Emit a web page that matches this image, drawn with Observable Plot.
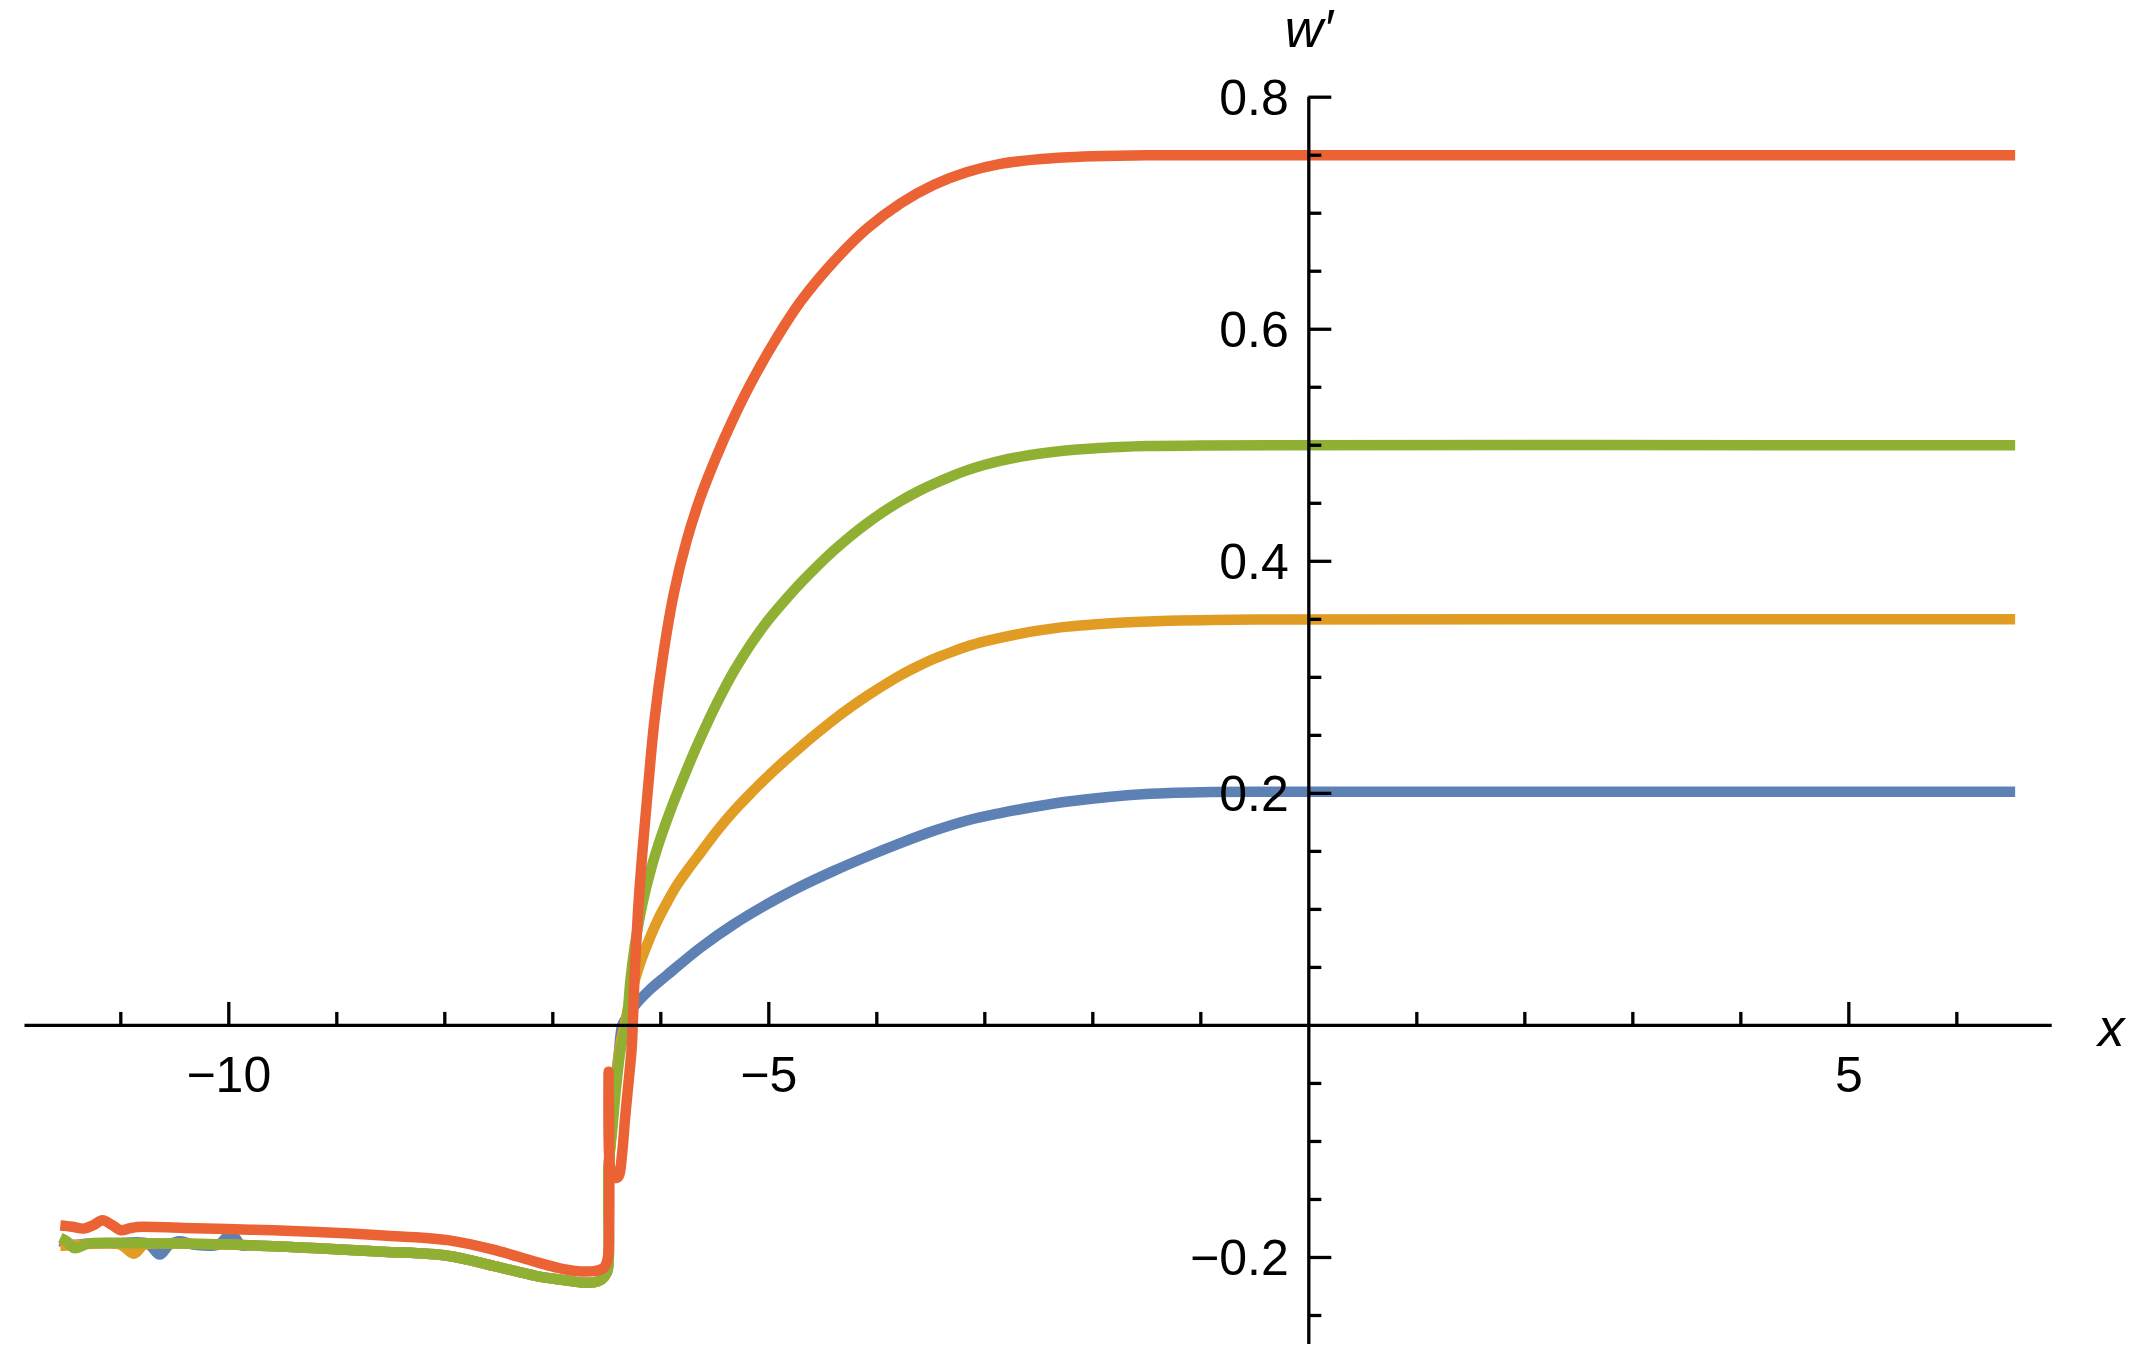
<!DOCTYPE html>
<html>
<head>
<meta charset="utf-8">
<script src="https://cdn.jsdelivr.net/npm/d3@7"></script>
<script src="https://cdn.jsdelivr.net/npm/@observablehq/plot@0.6"></script>
<style>
  html, body { margin: 0; padding: 0; background: #fff; }
</style>
</head>
<body>
<script>
// ---- Data ----
const seriesNames = ["0.2", "0.35", "0.5", "0.75"];
const seriesColors = ["#5E81B5", "#E19C24", "#8FB032", "#EB6235"];

const blue = [
  [-11.56, -0.186], [-11.45, -0.189], [-11.3, -0.188], [-11.0, -0.1875], [-10.75, -0.188],
  [-10.64, -0.1975], [-10.55, -0.189], [-10.45, -0.186], [-10.32, -0.189], [-10.1, -0.189],
  [-9.98, -0.180], [-9.88, -0.1895], [-9.8, -0.1895], [-9.18, -0.192], [-8.57, -0.195],
  [-7.975, -0.1985], [-7.56, -0.207], [-7.15, -0.216], [-6.90, -0.2195], [-6.74, -0.2215],
  [-6.62, -0.2215], [-6.55, -0.219], [-6.50, -0.213], [-6.484, -0.205], [-6.484, -0.125],
  [-6.45, -0.085], [-6.42, -0.05], [-6.39, -0.025], [-6.357, 0.0], [-6.31, 0.008],
  [-6.25, 0.0162], [-6.10, 0.031], [-5.941, 0.0435], [-5.632, 0.0671], [-5.324, 0.0872],
  [-5.015, 0.1045], [-4.707, 0.1197], [-4.398, 0.1332], [-4.089, 0.1456], [-3.781, 0.1571],
  [-3.472, 0.1677], [-3.163, 0.1766], [-2.855, 0.1830], [-2.54, 0.1885], [-2.23, 0.1930],
  [-1.92, 0.1963], [-1.615, 0.1988], [-1.3, 0.2003], [-1.0, 0.2010], [-0.5, 0.2013],
  [6.54, 0.2014]
];

const orange = [
  [-11.56, -0.190], [-11.45, -0.1895], [-11.2, -0.188], [-11.0, -0.189], [-10.88, -0.1967],
  [-10.78, -0.189], [-10.5, -0.188], [-9.8, -0.1895], [-9.18, -0.192], [-8.57, -0.195],
  [-7.975, -0.1985], [-7.56, -0.207], [-7.15, -0.216], [-6.90, -0.2195], [-6.74, -0.2215],
  [-6.62, -0.2215], [-6.55, -0.219], [-6.50, -0.213], [-6.484, -0.205], [-6.484, -0.125],
  [-6.45, -0.082], [-6.41, -0.042], [-6.37, -0.014], [-6.336, 0.0], [-6.29, 0.021],
  [-6.24, 0.039], [-6.19, 0.054], [-6.11, 0.0735], [-6.03, 0.0905], [-5.94, 0.1065],
  [-5.85, 0.121], [-5.74, 0.1355], [-5.63, 0.149], [-5.48, 0.1675], [-5.32, 0.1852],
  [-5.16, 0.2008], [-5.01, 0.2146], [-4.85, 0.2283], [-4.70, 0.2404], [-4.55, 0.2522],
  [-4.40, 0.2634], [-4.25, 0.2738], [-4.09, 0.2840], [-3.93, 0.2935], [-3.78, 0.3018],
  [-3.62, 0.3095], [-3.47, 0.3160], [-3.31, 0.3218], [-3.16, 0.3268], [-3.00, 0.3310],
  [-2.85, 0.3343], [-2.68, 0.3375], [-2.54, 0.3398], [-2.38, 0.3420], [-2.23, 0.3437],
  [-2.0, 0.3455], [-1.8, 0.3468], [-1.615, 0.3477], [-1.3, 0.3487], [-1.0, 0.3493],
  [-0.5, 0.3498], [6.54, 0.35]
];

const green = [
  [-11.56, -0.183], [-11.50, -0.186], [-11.43, -0.192], [-11.3, -0.188], [-11.0, -0.1875],
  [-10.5, -0.188], [-9.8, -0.1895], [-9.18, -0.192], [-8.57, -0.195], [-7.975, -0.1985],
  [-7.56, -0.207], [-7.15, -0.216], [-6.90, -0.2195], [-6.74, -0.2215], [-6.62, -0.2215],
  [-6.55, -0.219], [-6.50, -0.213], [-6.484, -0.205], [-6.484, -0.125], [-6.45, -0.09],
  [-6.41, -0.05], [-6.37, -0.02], [-6.32, 0.0], [-6.28, 0.04], [-6.23, 0.075],
  [-6.17, 0.105], [-6.09, 0.135], [-6.00, 0.162], [-5.90, 0.188], [-5.79, 0.2135],
  [-5.68, 0.2379], [-5.57, 0.2605], [-5.45, 0.2833], [-5.32, 0.3057], [-5.16, 0.3295],
  [-5.01, 0.3488], [-4.85, 0.3665], [-4.70, 0.3818], [-4.55, 0.396], [-4.40, 0.4092],
  [-4.25, 0.4212], [-4.09, 0.4328], [-3.93, 0.4432], [-3.78, 0.452], [-3.62, 0.4602],
  [-3.47, 0.4669], [-3.31, 0.4733], [-3.16, 0.4786], [-3.00, 0.4832], [-2.85, 0.4868],
  [-2.68, 0.4900], [-2.5, 0.4927], [-2.25, 0.4955], [-2.0, 0.4973], [-1.75, 0.4985],
  [-1.5, 0.4993], [-1.0, 0.4999], [6.54, 0.5]
];

const red = [
  [-11.56, -0.1725], [-11.45, -0.1735], [-11.34, -0.1751], [-11.25, -0.172], [-11.17, -0.1679],
  [-11.08, -0.172], [-11.00, -0.1765], [-10.92, -0.175], [-10.85, -0.1737], [-10.42, -0.1745],
  [-9.80, -0.176], [-9.18, -0.178], [-8.57, -0.181], [-7.975, -0.185], [-7.56, -0.193],
  [-7.15, -0.204], [-6.90, -0.210], [-6.74, -0.212], [-6.60, -0.2115], [-6.53, -0.209],
  [-6.50, -0.204], [-6.484, -0.195], [-6.484, -0.040], [-6.478, -0.112], [-6.455, -0.128],
  [-6.42, -0.1315], [-6.39, -0.130], [-6.36, -0.112], [-6.33, -0.079], [-6.30, -0.05],
  [-6.27, -0.02], [-6.26, 0.0], [-6.24, 0.05], [-6.21, 0.10], [-6.17, 0.150],
  [-6.12, 0.203], [-6.06, 0.262], [-5.98, 0.318], [-5.88, 0.372], [-5.76, 0.418],
  [-5.63, 0.456], [-5.48, 0.4913], [-5.339, 0.5209], [-5.169, 0.5529], [-4.953, 0.5885],
  [-4.705, 0.624], [-4.397, 0.6585], [-4.088, 0.687], [-3.780, 0.7085], [-3.471, 0.7245],
  [-3.163, 0.7355], [-2.855, 0.7425], [-2.54, 0.7462], [-2.23, 0.7482], [-1.9, 0.7493],
  [-1.5, 0.7499], [-1.0, 0.750], [6.54, 0.750]
];

const seriesData = [blue, orange, green, red];

// Ticks and labels
const xMajorTicks = [-10, -5, 5];
const xMajorLabels = ["\u221210", "\u22125", "5"];
const xMinorTicks = [-11, -9, -8, -7, -6, -4, -3, -2, -1, 1, 2, 3, 4, 6];
const yMajorTicks = [-0.2, 0.2, 0.4, 0.6, 0.8];
const yMajorLabels = ["\u22120.2", "0.2", "0.4", "0.6", "0.8"];
const yMinorTicks = [-0.25, -0.15, -0.1, -0.05, 0.05, 0.1, 0.15, 0.25, 0.3, 0.35, 0.45, 0.5, 0.55, 0.65, 0.7, 0.75];
const xAxisLabel = "x";
const yAxisLabel = "w\u2032";

// ---- Layout ----
const W = 2138, H = 1364;
const mLeft = 24.5, mRight = 86.3, mTop = 96.7, mBottom = 20;
const xDomain = [-11.887, 6.883];
const yDomain = [-0.275, 0.8];
const xPerPx = (xDomain[1] - xDomain[0]) / (W - mLeft - mRight);
const yPerPx = (yDomain[1] - yDomain[0]) / (H - mTop - mBottom);
const majorLen = 23, minorLen = 13;
const fs = 50;
const axisW = 3.3;

const marks = [];
seriesData.forEach((s, i) => {
  marks.push(Plot.line(s, {
    x: d => d[0], y: d => d[1],
    curve: "catmull-rom",
    stroke: seriesColors[i], strokeWidth: 10.5,
    strokeLinecap: "butt", strokeLinejoin: "miter", strokeMiterlimit: 4
  }));
});

// axes through the origin
marks.push(Plot.ruleY([0], {stroke: "#000", strokeWidth: axisW}));
marks.push(Plot.ruleX([0], {stroke: "#000", strokeWidth: axisW}));

// x ticks (pointing up)
marks.push(Plot.ruleX(xMajorTicks, {x: d => d, y1: 0, y2: majorLen * yPerPx, stroke: "#000", strokeWidth: axisW, strokeLinecap: "butt"}));
marks.push(Plot.ruleX(xMinorTicks, {x: d => d, y1: 0, y2: minorLen * yPerPx, stroke: "#000", strokeWidth: axisW, strokeLinecap: "butt"}));
// y ticks (pointing right)
marks.push(Plot.ruleY(yMajorTicks, {y: d => d, x1: 0, x2: majorLen * xPerPx, stroke: "#000", strokeWidth: axisW, strokeLinecap: "butt"}));
marks.push(Plot.ruleY(yMinorTicks, {y: d => d, x1: 0, x2: minorLen * xPerPx, stroke: "#000", strokeWidth: axisW, strokeLinecap: "butt"}));

// tick labels
marks.push(Plot.text(xMajorTicks, {
  x: d => d, y: 0, text: (d, i) => xMajorLabels[i],
  dy: 66.5, lineAnchor: "bottom", textAnchor: "middle", fontSize: fs, fill: "#000"
}));
marks.push(Plot.text(yMajorTicks, {
  x: 0, y: d => d, text: (d, i) => yMajorLabels[i],
  dx: -20, dy: 18, lineAnchor: "bottom", textAnchor: "end", fontSize: fs, fill: "#000"
}));

// axis labels
marks.push(Plot.text([xAxisLabel], {
  x: xDomain[1], y: 0, text: d => d, dx: 59, dy: 21,
  lineAnchor: "bottom", textAnchor: "middle", fontSize: fs + 3, fontStyle: "italic", fill: "#000"
}));
marks.push(Plot.text([yAxisLabel], {
  x: 0, y: yDomain[1], text: d => d, dy: -50,
  lineAnchor: "bottom", textAnchor: "middle", fontSize: fs + 3, fontStyle: "italic", fill: "#000"
}));

const chart = Plot.plot({
  width: W, height: H,
  marginLeft: mLeft, marginRight: mRight, marginTop: mTop, marginBottom: mBottom,
  x: {domain: xDomain, axis: null},
  y: {domain: yDomain, axis: null},
  style: {background: "#fff", fontFamily: "'Liberation Sans', Arial, Helvetica, sans-serif", overflow: "visible"},
  marks
});
document.body.appendChild(chart);
</script>
</body>
</html>
